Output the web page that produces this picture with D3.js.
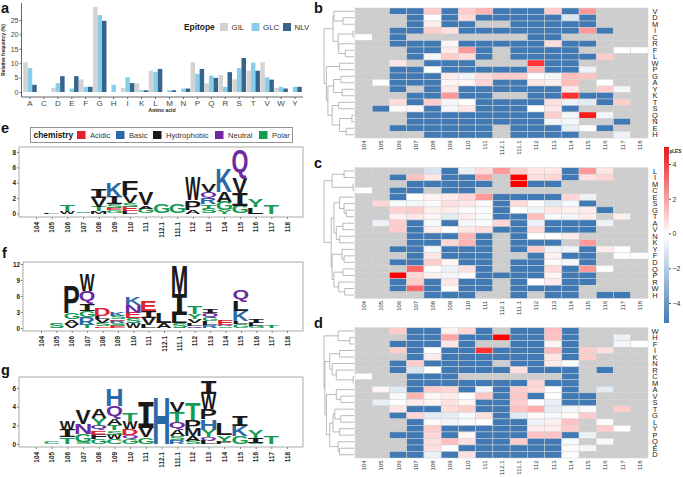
<!DOCTYPE html>
<html><head><meta charset="utf-8">
<script src="https://cdnjs.cloudflare.com/ajax/libs/d3/7.8.5/d3.min.js"></script>
<style>html,body{margin:0;padding:0;background:#fff}svg{display:block;font-family:"Liberation Sans",Arial,sans-serif}</style>
</head><body><svg id="c" width="683" height="477"></svg>
<script>
// ---------- panel a ----------
const aminoAcids = ["A","C","D","E","F","G","H","I","K","L","M","N","P","Q","R","S","T","V","W","Y"];
const epitopes = ["GIL","GLC","NLV"];
const epitopeColors = ["#d3d3d3","#87ceeb","#36648b"];
const freqGIL = [10.3,0,1.4,0,4.4,29.5,0,1.4,3,7.4,0,0,10.3,3,5.9,4.4,7.4,10.3,1.4,0];
const freqGLC = [8.3,0,3.1,1.2,1.8,26.7,2.5,5.1,0.6,7,0.6,1.2,6.3,5.7,1.8,8.3,10.2,5.1,1.8,1.8];
const freqNLV = [2.5,0,5.5,5.5,1.8,24.7,0,3.1,0.6,8,0.6,1.2,8,4.9,6.9,11.8,7.4,4.3,1.2,1.8];
const freqTicks = [0,5,10,15,20,25];

// ---------- heatmaps ----------
const positions = ["104","105","106","107","108","109","110","111","112.1","111.1","112","113","114","115","116","117","118"];
const n = null, B = -5;
const rowsB = ["V","D","M","I","C","R","F","L","W","P","G","A","Y","K","T","S","Q","N","E","H"];
const heatB = [
[n,n,B,B,1,B,1,1.5,B,B,B,1,B,2,n,n,n],
[n,n,n,B,0,B,.7,B,B,B,B,B,-1,B,n,n,n],
[n,n,n,B,.4,B,B,n,n,B,B,B,B,B,n,n,n],
[n,n,B,B,1,.6,B,B,B,B,B,B,B,2,B,n,n],
[0,n,B,n,n,n,n,n,n,n,B,B,n,n,n,n,n],
[n,n,B,B,B,.2,B,B,B,B,B,.7,B,B,n,n,n],
[n,n,n,B,B,.4,2,B,n,B,B,B,B,n,n,0,0],
[n,n,n,B,-.3,1,.7,B,n,B,B,B,B,B,1,n,n],
[n,n,.5,n,B,B,B,n,n,n,4,B,B,n,n,n,n],
[n,n,B,B,0,B,B,B,B,B,1.5,B,B,-.5,n,n,n],
[n,n,B,B,B,.4,-.4,.7,1,1,0,-.3,1.3,1.2,n,n,n],
[n,0,B,B,B,.2,.2,.8,B,B,.5,.3,1.3,n,0,n,n],
[n,n,B,n,B,.5,B,B,B,B,B,B,.5,n,1,-.3,n],
[n,n,n,B,B,2,B,B,n,n,B,B,4,B,B,n,n],
[n,n,.7,B,1,-.3,0,B,B,B,B,.6,-.5,-.7,B,1,n],
[n,B,.1,.2,B,-.3,.5,B,B,B,0,.5,B,n,n,n,n],
[n,n,n,B,B,B,B,B,B,B,B,1,-.3,4.5,-.3,n,n],
[n,n,n,B,B,B,B,B,B,B,B,-.3,-.3,n,n,B,n],
[n,n,B,B,B,B,B,B,n,B,B,B,-.7,0,B,n,n],
[n,n,n,n,B,B,B,B,n,B,B,B,B,n,n,-.5,n]];
const rowsC = ["L","I","M","C","E","S","G","T","A","V","N","K","Y","F","D","Q","P","R","W","H"];
const heatC = [
[n,n,n,n,-1,B,-.6,.7,2,1,.5,.5,B,2,.5,n,n],
[n,n,B,1.2,.5,B,B,1.8,n,5,.6,.8,B,.6,.8,n,n],
[n,n,n,B,B,B,B,B,n,5,B,B,n,n,n,n,n],
[0,n,B,B,n,B,B,n,n,n,n,n,n,n,n,n,n],
[n,n,B,0,.2,.4,.8,2,B,B,B,B,.8,-.5,n,n,n],
[n,.8,-.2,-.3,.1,.6,.5,.1,B,.7,.1,-.8,-.2,B,n,n,n],
[n,n,.9,1,.3,.4,-.1,-.1,B,0,-.4,.5,.3,.4,B,n,n],
[n,n,.3,.5,.2,-.8,.4,-.2,B,B,1.3,-.2,-.3,.4,n,.3,n],
[n,-.5,1,B,-.2,B,-.3,-.1,.8,B,-.5,B,B,B,-.5,n,n],
[n,n,1,B,.4,0,.5,.7,B,B,.8,B,B,B,n,n,n],
[n,n,n,B,B,B,1.5,B,n,B,0,0,.4,n,n,n,n],
[n,n,n,B,B,.8,1.5,B,n,B,B,B,n,2,n,n,n],
[n,n,B,B,-.3,B,B,B,n,B,1,-.4,-.4,B,.4,0,n],
[n,n,n,B,.5,B,B,B,n,n,B,.3,B,B,n,0,0],
[n,n,B,B,1,.2,B,B,n,B,B,.1,-.3,B,n,n,n],
[n,n,n,3,0,-.5,.6,B,n,B,B,.7,B,2,-.1,n,n],
[n,n,5,.8,.3,-.3,.1,B,B,B,B,.2,B,B,n,n,n],
[n,n,B,1,B,.5,B,B,n,B,0,.4,B,B,n,n,n],
[n,n,B,3,B,.1,B,B,n,B,B,B,B,n,n,n,n],
[n,n,n,n,B,B,B,n,n,B,n,B,B,n,B,B,n]];
const rowsD = ["W","H","F","I","K","N","R","C","M","A","V","S","T","G","L","Y","P","Q","E","D"];
const heatD = [
[n,n,1,B,B,.3,.8,B,n,B,B,1.3,B,n,n,n,n],
[n,n,n,B,B,1.8,B,B,5,B,B,1.2,B,n,n,-.5,n],
[n,n,B,B,B,.5,B,n,n,B,B,.2,B,n,n,-.3,0],
[n,n,1,B,0,B,B,4,B,B,B,1.4,B,1,.6,n,n],
[n,n,n,B,.4,B,B,B,B,B,B,.5,B,1,n,n,n],
[n,n,B,1,B,B,B,B,n,B,B,.4,-.2,n,n,n,n],
[n,n,B,-1,0,B,B,B,B,.6,B,B,B,n,B,n,n],
[0,n,n,B,B,B,n,n,n,n,n,n,B,n,n,n,n],
[n,n,n,B,B,B,B,B,B,B,.8,B,B,n,n,n,n],
[n,.2,-.8,B,1,.8,B,-.4,B,1,.8,0,B,n,-.7,n,n],
[n,n,-.2,1.5,.2,.4,0,1.1,B,1.1,B,0,B,B,n,n,n],
[n,-.6,0,.4,.2,.6,.2,B,B,1,0,-.6,B,B,n,n,n],
[n,n,.5,B,B,.7,1,B,B,1.2,1.6,-.7,-.3,-.2,n,1,n],
[n,n,B,.8,-.7,-.7,-.2,.6,B,-.8,.1,-.2,.1,1,n,n,n],
[n,n,n,B,.1,-.3,-.1,0,B,B,-.4,.3,1.2,n,.1,n,n],
[n,n,n,B,1,B,B,B,B,B,.4,.4,1,n,1,0,n],
[n,n,B,B,.8,B,.2,B,B,B,1.2,1.2,B,-.5,n,n,n],
[n,n,n,B,.6,1.3,.6,B,B,1,B,B,-.2,n,-.2,n,n],
[n,n,n,B,.6,0,B,B,B,B,B,B,.1,-.3,n,n,n],
[n,n,B,B,-.5,B,.6,B,B,B,B,B,-.1,n,n,n,n]];
const lesTicks = [4,2,0,-2,-4];

// dendrograms: [merge height, left, right]
const treeB = [1,[.7,[.67,"V",[.37,"D","M"]],[.53,[.03,"I","C"],[.51,"R",[.29,"F","L"]]]],[.92,[.48,"W","P"],[.87,[.68,[.44,"G","A"],[.4,"Y","K"]],[.73,[.51,"T","S"],[.48,[.07,"Q","N"],[.26,"E","H"]]]]]];
const treeC = [1,[.73,[.33,"L","I"],[.03,"M","C"]],[.76,[.67,[.48,"E",[.33,"S",[.26,"G","T"]]],[.59,[.37,"A","V"],[.48,"N","K"]]],[.73,[.4,"Y",[.33,"F","D"]],[.67,[.37,"Q","P"],[.51,"R",[.31,"W","H"]]]]]];
const treeD = [1,[.53,"W",[.14,"H","F"]],[.97,[.81,[.48,"I","K"],[.73,"N",[.59,"R",[.03,"C","M"]]]],[.92,[.59,"A",[.44,"V","S"]],[.81,[.7,[.64,"T",[.44,"G","L"]],[.48,"Y","P"]],[.53,"Q",[.48,"E","D"]]]]]];

// ---------- sequence logos (bottom to top, height in bits) ----------
const chemistryNames = ["Acidic","Basic","Hydrophobic","Neutral","Polar"];
const chemistryColors = ["#e0202c","#2a68a8","#1a1a1a","#6b2aa0","#169a55"];
const chemistryLetters = ["DE","KRH","AVLIPWFM","QN","GSTYC"];
const logoE = [
[],[["L",.1]],[["W",.3],["T",.8]],[["S",.15]],
[["M",.3],["T",.6],["V",1.1],["I",1.2]],
[["G",.4],["E",.3],["S",.5],["I",1],["K",1.9]],
[["L",.3],["E",.6],["S",.5],["V",1],["F",1.8]],
[["G",.65],["A",.4],["V",1.6]],
[["G",1.1]],[["G",1.1]],
[["A",.5],["P",1.2],["W",3]],
[["S",.65],["T",.55],["R",.75],["Q",.85],["V",.9]],
[["Y",.4],["G",1.1],["A",1.3],["K",3.1]],
[["G",1],["I",1.7],["V",1.9],["Q",3.6]],
[["L",.8],["Y",.95]],[["T",1.1]],[]];
const logoF = [
[],[["S",.9]],[["V",.8],["A",.8],["G",1.2],["P",5]],
[["T",.6],["R",1.4],["G",1.1],["I",1.3],["Q",2.6],["W",3]],
[["E",.3],["S",.6],["V",.8],["L",.5],["D",1.3]],
[["E",.4],["S",.5],["R",.4],["E",.3],["S",.6],["K",.8]],
[["W",.9],["S",.9],["E",1.1],["N",1.5],["K",1.4]],
[["L",.6],["V",1.3],["I",1.2],["E",1.9]],
[["A",.9],["L",1.9]],
[["S",.9],["L",1.6],["I",3.8],["M",5.3]],
[["Q",.4],["L",.5],["V",.8],["Y",1],["T",1.5]],
[["R",.5],["L",.8],["G",.6],["Q",.9],["I",.8]],
[["S",.3],["R",.3],["E",1]],
[["G",.8],["L",.45],["K",1.85],["L",1.8],["Q",2]],
[["G",.4],["L",.5],["I",.8]],[["T",.4]],[]];
const logoG = [
[],[["C",.2]],[["T",.7],["I",.8],["W",.9]],
[["S",.25],["G",.8],["N",1.1],["V",1.55]],
[["G",.5],["F",.5],["E",.45],["Q",.5],["Y",.8],["A",.95]],
[["C",.5],["W",.5],["S",.45],["T",.6],["A",.65],["Q",1.35],["H",1.85]],
[["G",.6],["Q",.35],["D",.7],["W",.75],["T",.95]],
[["G",.7],["V",1.05],["I",2.75]],
[["H",5]],
[["R",.45],["S",.4],["A",.7],["Q",.85],["T",1.05],["V",1.05]],
[["S",.35],["A",.5],["M",.75],["P",1],["T",1.8]],
[["L",.35],["Q",.35],["Y",.8],["H",1.15],["P",1.05],["W",1.7],["I",1.4]],
[["P",.25],["Y",.7],["L",1.25]],
[["G",.85],["K",1.05],["I",1.1]],
[["S",.1],["I",.55],["Y",.85]],[["T",.85]],[]];

// ---------- drawing ----------
const svg = d3.select("#c");
const FONT = '"Liberation Sans",Arial,sans-serif';
function tag(t,x,y){svg.append("text").attr("x",x).attr("y",y).attr("font-size",14.5).attr("font-weight",700).attr("fill","#111").text(t);}
tag("a",1,13.2);tag("b",314,13.2);tag("c",314,168);tag("d",314,328);tag("e",1,133);tag("f",2,258);tag("g",1,375);

// panel a
(function(){
  const x = d3.scaleBand().domain(aminoAcids).range([23,302]);
  const dodge = d3.scaleBand().domain(epitopes).range([0,x.bandwidth()]).paddingOuter(.05).paddingInner(0);
  const y = d3.scaleLinear().domain([0,25]).range([92,20]);
  const color = d3.scaleOrdinal(epitopes,epitopeColors);
  const series = [freqGIL,freqGLC,freqNLV];
  epitopes.forEach((e,i)=>{
    svg.append("g").selectAll("rect").data(series[i]).join("rect")
      .attr("x",(d,j)=>x(aminoAcids[j])+dodge(e)).attr("width",dodge.bandwidth())
      .attr("y",d=>y(d)).attr("height",d=>y(0)-y(d)).attr("fill",color(e));
  });
  const ax = svg.append("g").attr("transform","translate(21.5,0)").call(d3.axisLeft(y).tickValues(freqTicks).tickSize(2).tickPadding(1));
  ax.select(".domain").attr("d","M0,3V97");
  const bx = svg.append("g").attr("transform","translate(0,97)").call(d3.axisBottom(x).tickSize(2).tickPadding(1));
  bx.select(".domain").attr("d","M21.5,0H303");
  [ax,bx].forEach(g=>{g.selectAll(".domain").attr("stroke","#666").attr("stroke-width",1);
    g.selectAll("line").attr("stroke","#666");
    g.selectAll("text").attr("font-size",7).attr("fill","#444").attr("font-family",FONT);});
  bx.selectAll("text").attr("font-size",8);
  svg.append("text").attr("transform","translate(5,50) rotate(-90)").attr("text-anchor","middle")
    .attr("font-size",4.8).attr("font-weight",700).attr("fill","#222").text("Relative frequency (%)");
  svg.append("text").attr("x",162).attr("y",112).attr("text-anchor","middle")
    .attr("font-size",5).attr("font-weight",700).attr("fill","#222").text("Amino acid");
  const lx = d3.scalePoint().domain(epitopes).range([220,283]);
  svg.append("text").attr("x",184).attr("y",30).attr("font-size",8.4).attr("font-weight",700).attr("fill","#222").text("Epitope");
  const lg = svg.append("g").selectAll("g").data(epitopes).join("g").attr("transform",d=>`translate(${lx(d)},23)`);
  lg.append("rect").attr("width",8).attr("height",8).attr("fill",d=>color(d));
  lg.append("text").attr("x",11.5).attr("y",7).attr("font-size",7.9).attr("fill","#333").text(d=>d);
})();

// heatmaps
const heatColor = d3.scaleLinear().domain([-5,0,5]).range(["#4079b3","#ffffff","#ff0000"]).clamp(true);
function heat(rows,mat,tree,y0,y1){
  const x = d3.scaleBand().domain(positions).range([355,648]);
  const y = d3.scaleBand().domain(rows).range([y0,y1]);
  const g = svg.append("g");
  g.selectAll("g").data(mat).join("g").attr("transform",(d,i)=>`translate(0,${y(rows[i])})`)
   .selectAll("rect").data(d=>d).join("rect")
   .attr("x",(d,j)=>x(positions[j])).attr("width",x.bandwidth()).attr("height",y.bandwidth())
   .attr("fill",d=>d===null?"#cdcdcd":heatColor(d)).attr("stroke","#d2d2d2").attr("stroke-width",.5);
  g.append("g").selectAll("text").data(rows).join("text").attr("x",655).attr("y",d=>y(d)+y.bandwidth()/2+2.6)
   .attr("text-anchor","middle").attr("font-size",7.5).attr("fill","#222").text(d=>d);
  g.append("g").selectAll("text").data(positions).join("text")
   .attr("transform",d=>`translate(${x(d)+x.bandwidth()/2+2.5},${y1+2.5}) rotate(-90)`)
   .attr("text-anchor","end").attr("font-size",6).attr("fill","#333").text(d=>d);
  // dendrogram
  const h = d3.scaleLinear().domain([0,1]).range([354,324]);
  const root = d3.hierarchy(tree,d=>Array.isArray(d)?d.slice(1):null);
  root.eachAfter(nd=>{
    if(nd.children){nd.px=h(nd.data[0]);nd.py=d3.mean(nd.children,c=>c.py);}
    else{nd.px=h(0);nd.py=y(nd.data)+y.bandwidth()/2;}
  });
  const segs = root.descendants().filter(d=>d.parent).map(d=>`M${d.px},${d.py}H${d.parent.px}V${d.parent.py}`);
  g.append("path").attr("d",segs.join("")).attr("fill","none").attr("stroke","#a8a8a8").attr("stroke-width",.8);
}
heat(rowsB,heatB,treeB,8,138);
heat(rowsC,heatC,treeC,167.7,298.3);
heat(rowsD,heatD,treeD,327.7,458);

// colour bar
(function(){
  const s = d3.scaleLinear().domain([4,-4]).range([164,303]);
  const top=147,bot=323;
  const grad = svg.append("defs").append("linearGradient").attr("id","les").attr("x1",0).attr("x2",0).attr("y1",0).attr("y2",1);
  [[0,"#e31a1c"],[.5,"#ffffff"],[1,"#4079b3"]].forEach(([o,c])=>grad.append("stop").attr("offset",o).attr("stop-color",c));
  svg.append("rect").attr("x",664).attr("y",top).attr("width",5).attr("height",bot-top).attr("fill","url(#les)");
  const a = svg.append("g").attr("transform","translate(669,0)").call(d3.axisRight(s).tickValues(lesTicks).tickSize(2).tickPadding(1.5).tickFormat(d3.format("d")));
  a.select(".domain").remove();
  a.selectAll("line").attr("stroke","#555");
  a.selectAll("text").attr("font-size",7).attr("fill","#333").attr("font-family",FONT);
  svg.append("text").attr("x",669.5).attr("y",153).attr("font-size",4.6).attr("font-weight",700).attr("fill","#222").text("pLES");
})();

// logos
const mctx = document.createElement("canvas").getContext("2d");
function fontOf(l){return l==="I"?'"DejaVu Sans Mono"':'"Liberation Sans"';}
function ink(l){
  mctx.font = `bold 100px ${fontOf(l)}`;
  const m = mctx.measureText(l);
  return {l:-m.actualBoundingBoxLeft,r:m.actualBoundingBoxRight,a:m.actualBoundingBoxAscent,d:m.actualBoundingBoxDescent};
}
const chemOf = {};
chemistryLetters.forEach((s,i)=>[...s].forEach(c=>chemOf[c]=chemistryColors[i]));
function logo(stacks,opt){
  const x = d3.scalePoint().domain(positions).range([opt.x0,287]);
  const y = d3.scaleLinear().domain([0,opt.max]).range([opt.base,opt.top]);
  svg.append("rect").attr("x",opt.fx).attr("y",opt.fy).attr("width",303-opt.fx).attr("height",opt.fh)
    .attr("fill","none").attr("stroke","#aaa").attr("stroke-width",1);
  const g = svg.append("g");
  const w = x.step()*.97;
  stacks.forEach((st,i)=>{
    let acc=0;
    st.forEach(([l,v])=>{
      const m = ink(l), sx = w/(m.r-m.l), sy = (y(acc)-y(acc+v))/(m.a+m.d);
      const px = x(positions[i])-w/2-m.l*sx, py = y(acc)-m.d*sy;
      g.append("text").attr("transform",`translate(${px},${py}) scale(${sx},${sy})`)
        .style("font-family",fontOf(l)).attr("font-weight",700).attr("font-size",100).attr("fill",chemOf[l]).text(l);
      acc+=v;
    });
  });
  const a = svg.append("g").attr("transform",`translate(${opt.fx},0)`).call(d3.axisLeft(y).tickValues(opt.ticks).tickSize(2).tickPadding(1).tickFormat(d3.format("d")));
  a.select(".domain").remove();
  const b = svg.append("g").attr("transform",`translate(0,${opt.fy+opt.fh})`).call(d3.axisBottom(x).tickSize(2).tickPadding(2));
  b.select(".domain").remove();
  [a,b].forEach(s=>{s.selectAll("line").attr("stroke","#888");
    s.selectAll("text").attr("font-size",6.4).attr("font-weight",700).attr("fill","#222").attr("font-family",FONT);});
  b.selectAll("text").attr("transform","translate(0,5) rotate(-90)").attr("text-anchor","end").attr("y",0).attr("x",0).attr("dy","0.32em");
}
logo(logoE,{x0:36,max:8,base:213.5,top:152,fx:19,fy:147,fh:70,ticks:[0,2,4,6,8]});
logo(logoF,{x0:41,max:12,base:328,top:264,fx:23,fy:262,fh:69,ticks:[0,3,6,9,12]});
logo(logoG,{x0:36,max:6,base:444,top:388,fx:19,fy:377,fh:70,ticks:[0,2,4,6]});

// chemistry legend
(function(){
  svg.append("rect").attr("x",30.5).attr("y",127.5).attr("width",262).attr("height",15).attr("fill","#fff").attr("stroke","#777").attr("stroke-width",.8);
  svg.append("text").attr("x",33.5).attr("y",138).attr("font-size",8.4).attr("font-weight",700).attr("fill","#111").text("chemistry");
  const sw = d3.scaleOrdinal(chemistryNames,[77,116,153,215,259]);
  const l = svg.append("g").selectAll("g").data(chemistryNames).join("g").attr("transform",d=>`translate(${sw(d)},131)`);
  l.append("rect").attr("width",8.5).attr("height",8).attr("fill",(d,i)=>chemistryColors[i]);
  l.append("text").attr("x",13).attr("y",7).attr("font-size",7.6).attr("fill","#333").text(d=>d);
})();
</script></body></html>
